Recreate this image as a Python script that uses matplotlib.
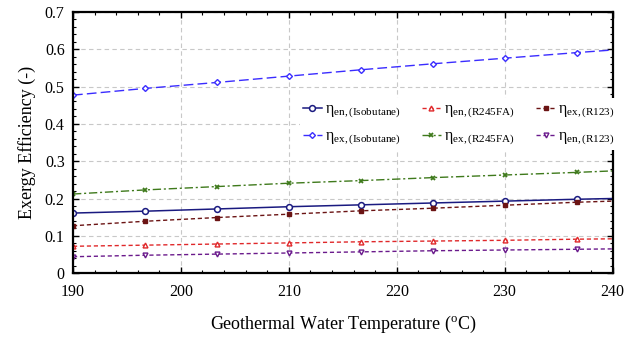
import numpy as np
import matplotlib
matplotlib.use('Agg')
import matplotlib.pyplot as plt
from matplotlib.ticker import MultipleLocator

plt.rcParams['font.family'] = ['Liberation Serif', 'DejaVu Serif']
plt.rcParams['mathtext.fontset'] = 'custom'
plt.rcParams['mathtext.rm'] = 'Liberation Serif'
plt.rcParams['mathtext.it'] = 'Liberation Serif:italic'

temp = [190, 196.67, 203.33, 210, 216.67, 223.33, 230, 236.67, 240]
en_iso = [0.161, 0.166, 0.172, 0.178, 0.183, 0.188, 0.193, 0.198, 0.200]
ex_iso = [0.477, 0.495, 0.511, 0.528, 0.545, 0.561, 0.576, 0.591, 0.598]
en_245 = [0.072, 0.075, 0.078, 0.081, 0.084, 0.086, 0.088, 0.091, 0.092]
ex_245 = [0.212, 0.223, 0.232, 0.241, 0.248, 0.256, 0.263, 0.270, 0.274]
ex_123 = [0.127, 0.139, 0.149, 0.158, 0.167, 0.174, 0.182, 0.190, 0.193]
en_123 = [0.044, 0.048, 0.051, 0.054, 0.057, 0.060, 0.062, 0.064, 0.065]

xticks = [190, 200, 210, 220, 230, 240]
yticks = [0, 0.1, 0.2, 0.3, 0.4, 0.5, 0.6, 0.7]
ytick_labels = ['0', '0.1', '0.2', '0.3', '0.4', '0.5', '0.6', '0.7']

fig = plt.figure(figsize=(6.26, 3.41), dpi=100)
ax = fig.add_axes([0.1166, 0.199, 0.862, 0.766])

mk = slice(0, 8)
ax.plot(temp, en_iso, color='#1a1a80', ls='-', lw=1.1, marker='o', ms=4.2,
        mfc='white', mew=1.1, markevery=mk, label=r'$\mathrm{η_{en,(Isobutane)}}$')
ax.plot(temp, ex_iso, color='#3a2cff', ls=(0, (7, 3)), lw=1.0, marker='D', ms=3,
        mfc='white', mew=1.0, markevery=mk, label=r'$\mathrm{η_{ex,(Isobutane)}}$')
ax.plot(temp, en_245, color='#e0282a', ls=(0, (3, 2)), lw=1.0, marker='^', ms=3.5,
        mfc='white', mew=1.0, markevery=mk, label=r'$\mathrm{η_{en,(R245FA)}}$')
ax.plot(temp, ex_245, color='#3f7a1c', ls=(0, (6, 2, 1.5, 2)), lw=1.0, marker='x', ms=3.5,
        mew=1.3, markevery=mk, label=r'$\mathrm{η_{ex,(R245FA)}}$')
ax.plot(temp, ex_123, color='#6b1414', ls=(0, (3, 2)), lw=1.0, marker='s', ms=3.5,
        markevery=mk, label=r'$\mathrm{η_{ex,(R123)}}$')
ax.plot(temp, en_123, color='#6a1a8c', ls=(0, (3, 2)), lw=1.0, marker='v', ms=3.5,
        mfc='white', mew=1.0, markevery=mk, label=r'$\mathrm{η_{en,(R123)}}$')

ax.set_xlim(190, 240)
ax.set_ylim(0, 0.7)
ax.set_xticks(xticks)
ax.set_yticks(yticks)
ax.set_yticklabels(ytick_labels)
ax.xaxis.set_minor_locator(MultipleLocator(2))
ax.yaxis.set_minor_locator(MultipleLocator(0.02))
ax.tick_params(which='both', direction='in', top=True, right=True, labelsize=11.5)
ax.tick_params(axis='x', which='major', pad=8)
ax.tick_params(axis='y', which='major', pad=6)
ax.tick_params(which='major', length=4, width=1.0)
ax.tick_params(which='minor', length=2.5, width=0.8)
ax.grid(True, which='major', color='#c8c8c8', ls=(0, (4, 3)), lw=0.8)
for s in ax.spines.values():
    s.set_linewidth(1.6)

ax.set_xlabel(r'Geothermal Water Temperature ($\mathrm{^{o}}$C)', fontsize=13, labelpad=10)
ax.set_ylabel('Exergy Efficiency (-)', fontsize=13, labelpad=6)

leg = ax.legend(loc='upper right', bbox_to_anchor=(1.025, 0.70), ncol=3, fontsize=11.5,
                frameon=True, facecolor='white', edgecolor='none', framealpha=1,
                handlelength=1.2, handletextpad=0.2, columnspacing=1.3,
                labelspacing=0.5, borderpad=0.2, fancybox=False)

fig.savefig('out.png', dpi=100)
